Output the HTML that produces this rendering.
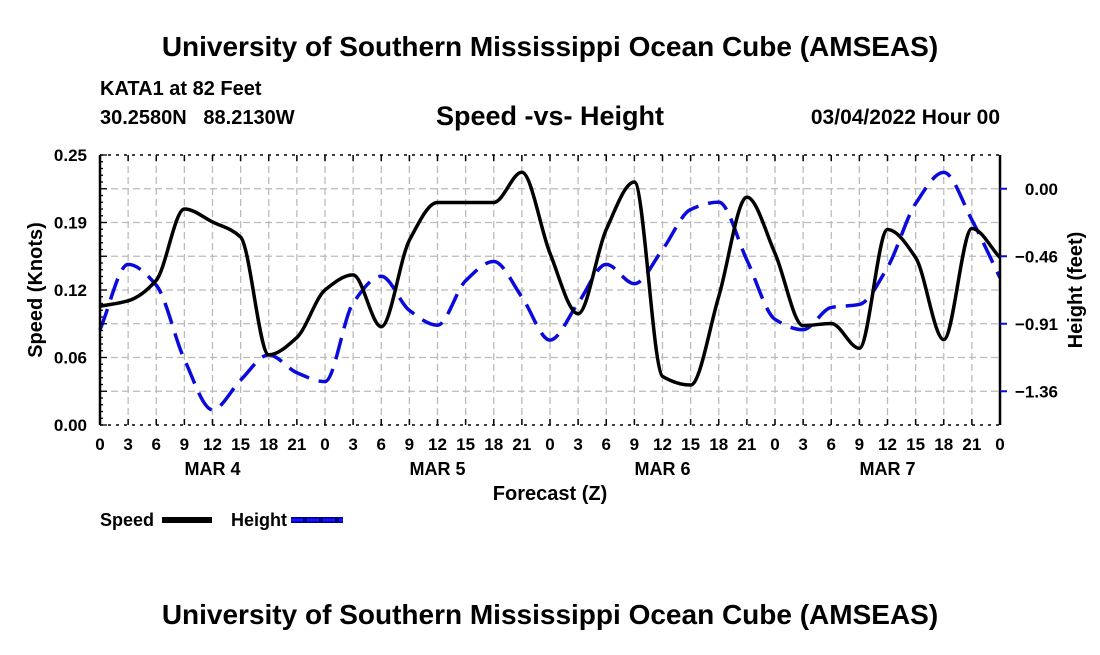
<!DOCTYPE html>
<html><head><meta charset="utf-8"><style>
body{margin:0;background:#fff;width:1100px;height:650px;overflow:hidden;font-family:"Liberation Sans",Arial,sans-serif}
svg text{font-family:"Liberation Sans",Arial,sans-serif;font-weight:bold;fill:#000}
</style></head><body>
<svg id="chart" width="1100" height="650">
<text x="550" y="56" font-size="28" text-anchor="middle">University of Southern Mississippi Ocean Cube (AMSEAS)</text>
<text x="100" y="95" font-size="20">KATA1 at 82 Feet</text>
<text x="100" y="124" font-size="20">30.2580N&#160;&#160;&#160;88.2130W</text>
<text x="550" y="125" font-size="27" text-anchor="middle">Speed -vs- Height</text>
<text x="1000" y="124" font-size="21" text-anchor="end">03/04/2022 Hour 00</text>
<g id="grid"></g>
<g id="series"></g>
<g id="axes"></g>
<text x="550" y="500" font-size="20" text-anchor="middle">Forecast (Z)</text>
<text transform="translate(42,290) rotate(-90)" font-size="20" text-anchor="middle">Speed (Knots)</text>
<text transform="translate(1082,290) rotate(-90)" font-size="20" text-anchor="middle">Height (feet)</text>
<g>
<text x="100" y="526" font-size="18">Speed</text>
<rect x="162" y="517" width="50" height="6" fill="#000"/></g>
<g>
<text x="231" y="526" font-size="18">Height</text>
<rect x="291" y="517" width="52" height="6" fill="#00008b"/>
<line x1="291" y1="520" x2="343" y2="520" stroke="#1414ff" stroke-width="3" stroke-dasharray="12,4"/></g>
<text x="550" y="624" font-size="28" text-anchor="middle">University of Southern Mississippi Ocean Cube (AMSEAS)</text>
</svg>
<script>
const hours=[0,3,6,9,12,15,18,21,24,27,30,33,36,39,42,45,48,51,54,57,60,63,66,69,72,75,78,81,84,87,90,93,96];
const speed=[0.110,0.115,0.134,0.200,0.188,0.174,0.065,0.081,0.125,0.139,0.091,0.171,0.206,0.206,0.206,0.234,0.159,0.103,0.181,0.225,0.045,0.037,0.119,0.211,0.159,0.092,0.094,0.071,0.181,0.155,0.079,0.182,0.155];
const height=[-0.95,-0.51,-0.65,-1.15,-1.49,-1.29,-1.12,-1.24,-1.30,-0.77,-0.59,-0.82,-0.92,-0.62,-0.49,-0.73,-1.02,-0.77,-0.51,-0.64,-0.41,-0.14,-0.09,-0.48,-0.88,-0.95,-0.80,-0.78,-0.53,-0.10,0.11,-0.21,-0.60];
const speedTicks=[0,0.0625,0.125,0.1875,0.25];
const speedTickLabels=["0.00","0.06","0.12","0.19","0.25"];
const heightTicks=[0,-0.455,-0.91,-1.365];
const heightTickLabels=["0.00","\u22120.46","\u22120.91","\u22121.36"];
const dayLabels=["MAR 4","MAR 5","MAR 6","MAR 7"];

const L=100,R=1000,T=155,B=425;
const NS="http://www.w3.org/2000/svg";
const xS=h=>L+(R-L)*h/96;
const yS=s=>B-(B-T)*s/0.25;
const hMin=-1.5925,hMax=0.2275;
const yH=v=>B-(B-T)*(v-hMin)/(hMax-hMin);
function mk(tag,attrs,parent){const e=document.createElementNS(NS,tag);for(const k in attrs)e.setAttribute(k,attrs[k]);parent.appendChild(e);return e;}
const grid=document.getElementById('grid'),axes=document.getElementById('axes'),series=document.getElementById('series');
for(let i=1;i<32;i++){const gl=mk('line',{x1:xS(i*3),x2:xS(i*3),y1:T,y2:B,stroke:'#bbb','stroke-width':1.3,'stroke-dasharray':'7,4'},grid);

}
for(let i=1;i<8;i++){const gl=mk('line',{x1:L,x2:R,y1:yS(i*0.25/8),y2:yS(i*0.25/8),stroke:'#bbb','stroke-width':1.3,'stroke-dasharray':'7,4'},grid);

}
function path(vals,sc){
const p=hours.map((h,i)=>[xS(h),sc(vals[i])]);const n=p.length;
const d=[],m=new Array(n);
for(let i=0;i<n-1;i++)d.push((p[i+1][1]-p[i][1])/(p[i+1][0]-p[i][0]));
m[0]=d[0];m[n-1]=d[n-2];
for(let i=1;i<n-1;i++){if(d[i-1]*d[i]<=0)m[i]=0;else m[i]=2/(1/d[i-1]+1/d[i]);}
let s='M'+p[0][0]+','+p[0][1];
for(let i=0;i<n-1;i++){const h=(p[i+1][0]-p[i][0])/3;
s+=' C'+(p[i][0]+h)+','+(p[i][1]+m[i]*h)+' '+(p[i+1][0]-h)+','+(p[i+1][1]-m[i+1]*h)+' '+p[i+1][0]+','+p[i+1][1];}
return s;}
const hl=mk('path',{d:path(height,yH),fill:'none',stroke:'#0a0adc','stroke-width':3.5,'stroke-dasharray':'22,10'},series);


const sl=mk('path',{d:path(speed,yS),fill:'none',stroke:'#000','stroke-width':3.5},series);


mk('line',{x1:L,x2:L,y1:T,y2:B,stroke:'#000','stroke-width':2.5},axes);
mk('line',{x1:R,x2:R,y1:T,y2:B,stroke:'#000','stroke-width':2.5},axes);
mk('line',{x1:L,x2:R,y1:T,y2:T,stroke:'#000','stroke-width':1.5,'stroke-dasharray':'3,5'},axes);
mk('line',{x1:L,x2:R,y1:B,y2:B,stroke:'#000','stroke-width':1.5,'stroke-dasharray':'3,5'},axes);
for(let i=0;i<=32;i++){const x=xS(i*3);
mk('line',{x1:x,x2:x,y1:B,y2:B-6,stroke:'#000','stroke-width':1.5},axes);
mk('line',{x1:x,x2:x,y1:T,y2:T+6,stroke:'#000','stroke-width':1.5},axes);
const t=mk('text',{x:x,y:450,'font-size':17,'text-anchor':'middle'},axes);t.textContent=String((i*3)%24);

}
dayLabels.forEach((d,i)=>{const t=mk('text',{x:xS(i*24+12),y:475,'font-size':18,'text-anchor':'middle'},axes);t.textContent=d;

});
for(let i=0;i<=40;i++){const y=B-(B-T)*i/40;mk('line',{x1:L,x2:L+(i%5?3:7),y1:y,y2:y,stroke:'#000','stroke-width':1.3},axes);}
speedTicks.forEach((v,i)=>{const t=mk('text',{x:87,y:yS(v)+6,'font-size':17,'text-anchor':'end'},axes);t.textContent=speedTickLabels[i];

});
heightTicks.forEach((v,i)=>{mk('line',{x1:R,x2:R+7,y1:yH(v),y2:yH(v),stroke:'#0a0adc','stroke-width':2},axes);
const t=mk('text',{x:1058,y:yH(v)+6,'font-size':17,'text-anchor':'end'},axes);t.textContent=heightTickLabels[i];

});
</script>
</body></html>
